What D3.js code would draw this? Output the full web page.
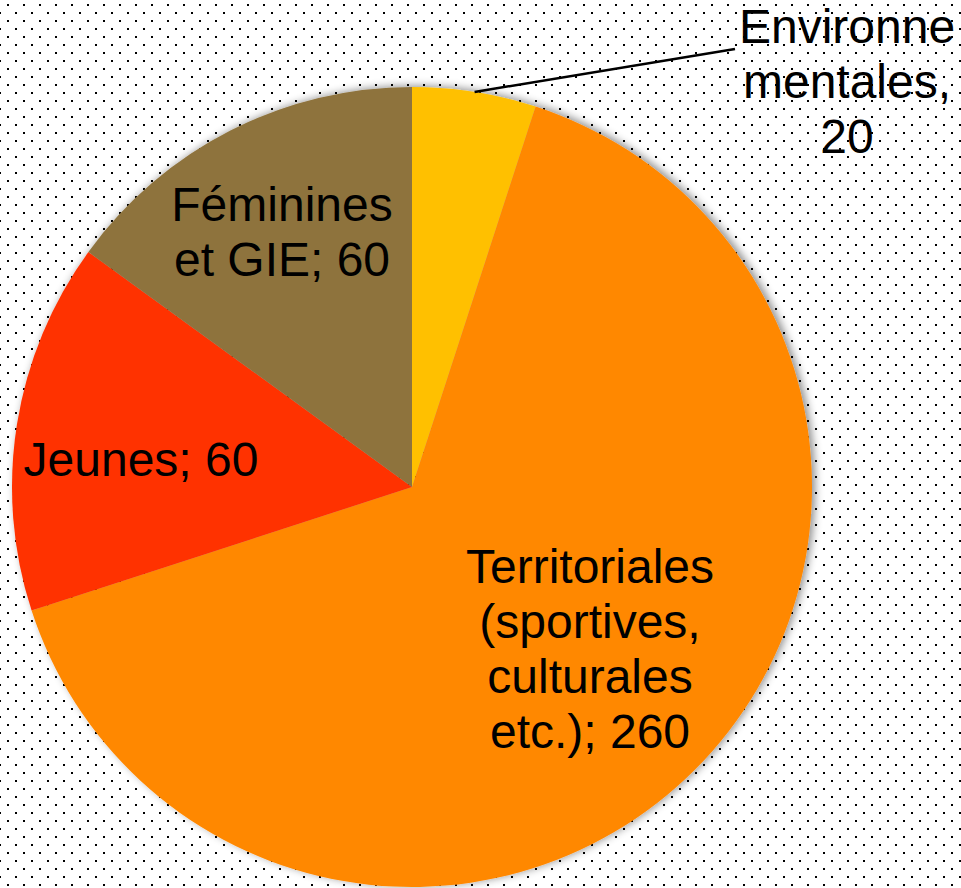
<!DOCTYPE html>
<html>
<head>
<meta charset="utf-8">
<script src="https://cdn.jsdelivr.net/npm/d3@7"></script>
<style>
  body { margin: 0; background: #fff; }
  svg { display: block; font-family: "Liberation Sans", Arial, sans-serif; }
</style>
</head>
<body>
<script>
var width = 961,
  height = 888;

// data
var categories = ["Environnementales", "Territoriales (sportives, culturales etc.)", "Jeunes", "Féminines et GIE"];
var values = [20, 260, 60, 60];
var colors = ["#FFC000", "#FF8800", "#FF3300", "#8E733E"];
// label lines as shown on the chart
var labelLines = [
  ["Environne", "mentales,", "20"],
  ["Territoriales", "(sportives,", "culturales", "etc.); 260"],
  ["Jeunes; 60"],
  ["Féminines", "et GIE; 60"]
];

var cx = 412, cy = 487, radius = 400;

var svg = d3.select("body").append("svg")
  .attr("width", width)
  .attr("height", height);

var defs = svg.append("defs");

// dotted background
var pattern = defs.append("pattern")
  .attr("id", "dots")
  .attr("patternUnits", "userSpaceOnUse")
  .attr("width", 16)
  .attr("height", 16);
pattern.append("rect").attr("x", 7).attr("y", 4).attr("width", 2).attr("height", 2).attr("fill", "#000");
pattern.append("rect").attr("x", -1).attr("y", 12).attr("width", 2).attr("height", 2).attr("fill", "#000");
pattern.append("rect").attr("x", 15).attr("y", 12).attr("width", 2).attr("height", 2).attr("fill", "#000");

var shadow = defs.append("filter")
  .attr("id", "shadow")
  .attr("x", "-10%").attr("y", "-10%")
  .attr("width", "120%").attr("height", "120%");
shadow.append("feDropShadow")
  .attr("dx", 3).attr("dy", -1)
  .attr("stdDeviation", 4)
  .attr("flood-color", "#000")
  .attr("flood-opacity", 0.45);

svg.append("rect")
  .attr("width", width)
  .attr("height", height)
  .attr("fill", "#fff");
svg.append("rect")
  .attr("width", width)
  .attr("height", height)
  .attr("fill", "url(#dots)");

var data = categories.map(function(c, i) {
  return { name: c, value: values[i], color: colors[i], lines: labelLines[i] };
});

var pie = d3.pie()
  .sort(null)
  .value(function(d) { return d.value; });

var arc = d3.arc()
  .innerRadius(0)
  .outerRadius(radius);

var arcs = pie(data);

var root = svg.append("g")
  .attr("transform", "translate(" + cx + "," + cy + ")");

root.append("g")
  .attr("filter", "url(#shadow)")
  .selectAll("path")
  .data(arcs)
  .enter()
  .append("path")
  .attr("d", arc)
  .attr("fill", function(d) { return d.data.color; });

// label positions (relative to centre), line height 55
var labelPos = [
  { x: 847 - cx, y: 43 - cy },
  { x: 590 - cx, y: 583 - cy },
  { x: 141 - cx, y: 476 - cy },
  { x: 282 - cx, y: 221 - cy }
];

// leader line for the small slice
var edge = d3.arc().innerRadius(radius).outerRadius(radius);
var p0 = edge.centroid(arcs[0]);
root.append("line")
  .attr("x1", p0[0]).attr("y1", p0[1])
  .attr("x2", 735 - cx).attr("y2", 49 - cy)
  .attr("stroke", "#000")
  .attr("stroke-width", 2.5);

var labels = root.selectAll(".label")
  .data(arcs)
  .enter()
  .append("text")
  .attr("class", "label")
  .attr("text-anchor", "middle")
  .attr("font-size", 48)
  .attr("fill", "#000")
  .attr("transform", function(d, i) { return "translate(" + labelPos[i].x + "," + labelPos[i].y + ")"; });

labels.selectAll("tspan")
  .data(function(d) { return d.data.lines; })
  .enter()
  .append("tspan")
  .attr("x", 0)
  .attr("y", function(d, i) { return i * 55; })
  .text(function(d) { return d; });
</script>
</body>
</html>
